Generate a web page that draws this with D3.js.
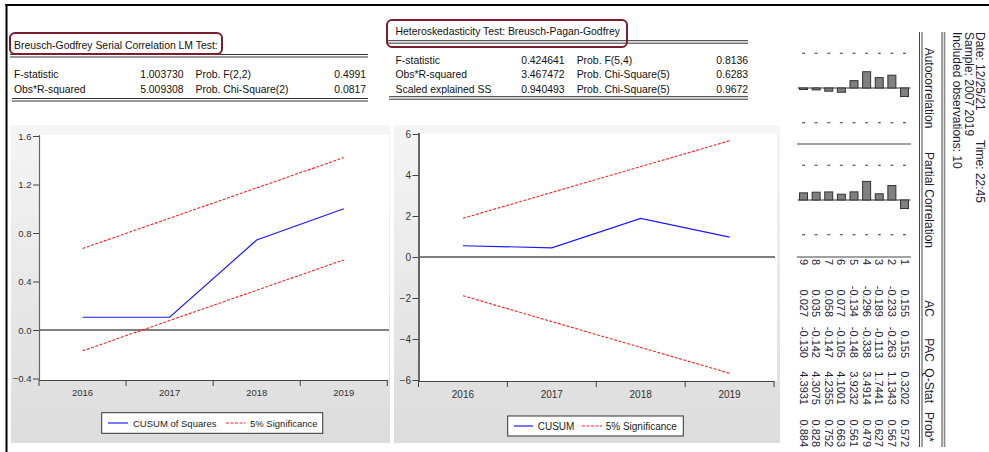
<!DOCTYPE html>
<html><head><meta charset="utf-8">
<script src="https://cdn.jsdelivr.net/npm/d3@7"></script>
<style>body{margin:0;background:#fff}svg{display:block}text{font-family:"Liberation Sans",Arial,sans-serif}</style>
</head><body><svg id="c" width="989" height="452"></svg>
<script>
// ---------- data ----------
const years = ["2016","2017","2018","2019"];
const cusumSq = [0.105,0.105,0.742,1.0];
const cusumSqUpper = [0.672,0.922,1.172,1.422];
const cusumSqLower = [-0.172,0.078,0.328,0.578];
const cusumSqTicks = [-0.4,0.0,0.4,0.8,1.2,1.6];
const cusum = [0.55,0.45,1.88,0.97];
const cusumUpper = [1.89,3.15,4.41,5.67];
const cusumLower = [-1.89,-3.15,-4.41,-5.67];
const cusumTicks = [-6,-4,-2,0,2,4,6];

const lags = [1,2,3,4,5,6,7,8,9];
const acVals = [0.155,-0.233,-0.189,-0.296,-0.134,0.077,0.058,0.035,0.027];
const pacVals = [0.155,-0.263,-0.113,-0.338,-0.148,-0.105,-0.147,-0.142,-0.130];
const acText = ["0.155","-0.233","-0.189","-0.296","-0.134","0.077","0.058","0.035","0.027"];
const pacText = ["0.155","-0.263","-0.113","-0.338","-0.148","-0.105","-0.147","-0.142","-0.130"];
const qStat = ["0.3202","1.1343","1.7441","3.4914","3.9232","4.1001","4.2355","4.3075","4.3931"];
const probVals = ["0.572","0.567","0.627","0.479","0.561","0.663","0.752","0.828","0.884"];
const corrBound = 0.632;
const corrInfo = ["Date: 12/25/21","Time: 22:45","Sample: 2007 2019","Included observations: 10"];
const corrHeads = ["Autocorrelation","Partial Correlation","AC","PAC","Q-Stat","Prob*"];

const bgTitle = "Breusch-Godfrey Serial Correlation LM Test:";
const bgRows = [["F-statistic","1.003730","Prob. F(2,2)","0.4991"],
                ["Obs*R-squared","5.009308","Prob. Chi-Square(2)","0.0817"]];
const hetTitle = "Heteroskedasticity Test: Breusch-Pagan-Godfrey";
const hetRows = [["F-statistic","0.424641","Prob. F(5,4)","0.8136"],
                 ["Obs*R-squared","3.467472","Prob. Chi-Square(5)","0.6283"],
                 ["Scaled explained SS","0.940493","Prob. Chi-Square(5)","0.9672"]];

// ---------- drawing ----------
const svg = d3.select("#c");
const defs = svg.append("defs");
const gr = defs.append("linearGradient").attr("id","pg").attr("x1",0).attr("y1",0).attr("x2",0).attr("y2",1);
gr.append("stop").attr("offset","0%").attr("stop-color","#f5f5f5");
gr.append("stop").attr("offset","100%").attr("stop-color","#dcdcdc");

// frame
svg.append("rect").attr("x",5.5).attr("y",4).attr("width",2).attr("height",448).attr("fill","#000");
svg.append("rect").attr("x",5.5).attr("y",4).attr("width",984).attr("height",2).attr("fill","#000");

function dbl(g,x1,x2,y){
  g.append("line").attr("x1",x1).attr("x2",x2).attr("y1",y).attr("y2",y).attr("stroke","#333").attr("stroke-width",1);
  g.append("line").attr("x1",x1).attr("x2",x2).attr("y1",y+2.5).attr("y2",y+2.5).attr("stroke","#333").attr("stroke-width",1);
}

function table(opt){
  const g = svg.append("g").attr("font-size","10.4px").attr("fill","#111");
  dbl(g,opt.x0,opt.x1,opt.lineTop);
  dbl(g,opt.x0+2,opt.x1,opt.lineBot);
  g.append("rect").attr("x",opt.box[0]).attr("y",opt.box[1]).attr("width",opt.box[2]).attr("height",opt.box[3])
    .attr("rx",5).attr("fill","none").attr("stroke","#7d1c2c").attr("stroke-width",2);
  g.append("text").attr("x",opt.tx).attr("y",opt.ty).text(opt.title);
  opt.rows.forEach((r,i)=>{
    const y = opt.ry[i];
    g.append("text").attr("x",opt.cols[0]).attr("y",y).text(r[0]);
    g.append("text").attr("x",opt.cols[1]).attr("y",y).attr("text-anchor","end").text(r[1]);
    g.append("text").attr("x",opt.cols[2]).attr("y",y).text(r[2]);
    g.append("text").attr("x",opt.cols[3]).attr("y",y).attr("text-anchor","end").text(r[3]);
  });
}
table({title:bgTitle,rows:bgRows,x0:10,x1:368,lineTop:54.5,lineBot:98.5,box:[10,33,212,21],tx:14,ty:48.5,
  ry:[78,92.5],cols:[14,183.5,195.5,366]});
table({title:hetTitle,rows:hetRows,x0:387,x1:748,lineTop:40.7,lineBot:96.7,box:[387,20,240,27],tx:395.5,ty:35,
  ry:[64,78.3,92.7],cols:[395.5,564.5,576.7,748]});

function chart(o){
  const g = svg.append("g");
  g.append("rect").attr("x",o.panel[0]).attr("y",o.panel[1]).attr("width",o.panel[2]).attr("height",o.panel[3]).attr("fill","url(#pg)");
  g.append("rect").attr("x",o.plot[0]).attr("y",o.plot[1]).attr("width",o.plot[2]).attr("height",o.plot[3]).attr("fill","#fff");
  const x = d3.scaleBand().domain(years).range(o.xr);
  const y = d3.scaleLinear().domain(o.yd).range(o.yr);
  const cx = d => x(d)+x.bandwidth()/2;
  // zero line
  g.append("line").attr("x1",o.xr[0]).attr("x2",o.zeroEnd).attr("y1",y(0)).attr("y2",y(0)).attr("stroke","#555").attr("stroke-width",1.5);
  // y axis
  const ya = g.append("g").attr("transform",`translate(${o.xr[0]},0)`)
    .call(d3.axisLeft(y).tickValues(o.ticks).tickFormat(o.fmt).tickSize(6).tickPadding(1.5));
  ya.select(".domain").attr("stroke","#666").attr("stroke-width",o.axW).attr("d",`M0.5,${o.yr[1]-1}V${o.axisY}`);
  ya.selectAll(".tick line").attr("stroke","#444");
  ya.selectAll("text").attr("font-size",o.fs).attr("fill","#333").attr("font-family","Liberation Sans, Arial, sans-serif");
  // x axis
  const xa = g.append("g").attr("transform",`translate(0,${o.axisY})`)
    .call(d3.axisBottom(x).tickSize(0).tickPadding(o.xpad));
  xa.select(".domain").attr("stroke","#444").attr("stroke-width",1.2).attr("d",`M${o.xr[0]},0.5H${o.xr[1]}`);
  xa.selectAll("text").attr("font-size",o.fs).attr("fill","#333").attr("font-family","Liberation Sans, Arial, sans-serif");
  const bounds = years.map(d=>x(d)).concat([o.xr[1]]);
  g.selectAll(".xt").data(bounds).enter().append("line")
    .attr("x1",d=>d).attr("x2",d=>d).attr("y1",o.axisY).attr("y2",o.axisY+6).attr("stroke","#444");
  const line = d3.line().x((d,i)=>cx(years[i])).y(d=>y(d));
  g.append("path").attr("d",line(o.up)).attr("fill","none").attr("stroke","#ff2020").attr("stroke-width",1.1).attr("stroke-dasharray","3,1.5");
  g.append("path").attr("d",line(o.lo)).attr("fill","none").attr("stroke","#ff2020").attr("stroke-width",1.1).attr("stroke-dasharray","3,1.5");
  g.append("path").attr("d",line(o.main)).attr("fill","none").attr("stroke","#1a1aff").attr("stroke-width",1.2);
  // legend
  const L = o.leg;
  const lg = g.append("g");
  lg.append("rect").attr("x",L.x).attr("y",L.y).attr("width",L.w).attr("height",L.h).attr("fill","#fff").attr("stroke","#333").attr("stroke-width",1);
  const ly = L.y+L.h/2;
  lg.append("line").attr("x1",L.s1[0]).attr("x2",L.s1[1]).attr("y1",ly).attr("y2",ly).attr("stroke","#4d4dff").attr("stroke-width",1.5);
  lg.append("text").attr("x",L.t1).attr("y",ly+3.5).attr("font-size",o.fs).attr("fill","#222").text(L.n1);
  lg.append("line").attr("x1",L.s2[0]).attr("x2",L.s2[1]).attr("y1",ly).attr("y2",ly).attr("stroke","#ff2020").attr("stroke-width",1).attr("stroke-dasharray","3,1.5");
  lg.append("text").attr("x",L.t2).attr("y",ly+3.5).attr("font-size",o.fs).attr("fill","#222").text(L.n2);
}

chart({panel:[11,125,379,318],plot:[39,135,350,245],xr:[39,387.3],yd:[-0.4,1.6],yr:[378.5,136],axisY:380,zeroEnd:389,
  ticks:cusumSqTicks,fmt:d3.format(".1f"),fs:"9.5px",axW:1.2,xpad:9,
  up:cusumSqUpper,lo:cusumSqLower,main:cusumSq,
  leg:{x:101.7,y:412.7,w:221,h:20.6,s1:[108,128],t1:133,n1:"CUSUM of Squares",s2:[226,245],t2:250,n2:"5% Significance"}});
chart({panel:[394,125,386,318],plot:[418,133,359,248],xr:[418.5,774],yd:[-6,6],yr:[380,134],axisY:381,zeroEnd:775,
  ticks:cusumTicks,fmt:d3.format("d"),fs:"10px",axW:2,xpad:10,
  up:cusumUpper,lo:cusumLower,main:cusum,
  leg:{x:507.7,y:416,w:175.6,h:20,s1:[514,533],t1:537.7,n1:"CUSUM",s2:[582,602],t2:605.7,n2:"5% Significance"}});

// ---------- correlogram (rotated) ----------
const cg = svg.append("g");
const xl = d3.scaleLinear().domain([1,9]).range([904.5,803.5]);
const k = d3.scaleLinear().domain([-1,1]).range([-55,55]);
[[88,acVals],[200,pacVals]].forEach(([base,vals])=>{
  cg.append("line").attr("x1",797.5).attr("x2",910.5).attr("y1",base).attr("y2",base).attr("stroke","#333").attr("stroke-width",1);
  [-corrBound,corrBound].forEach(b=>{
    cg.selectAll(null).data(lags).enter().append("line")
      .attr("x1",d=>xl(d)-1.5).attr("x2",d=>xl(d)+1.5).attr("y1",base+k(b)).attr("y2",base+k(b)).attr("stroke","#333");
  });
  cg.selectAll(null).data(vals).enter().append("rect")
    .attr("x",(d,i)=>xl(lags[i])-4).attr("width",8)
    .attr("y",d=>base+Math.min(0,k(d))).attr("height",d=>Math.abs(k(d)))
    .attr("fill","#808080").attr("stroke","#333").attr("stroke-width",1);
});
[144,257].forEach(yy=>cg.append("line").attr("x1",797).attr("x2",911).attr("y1",yy).attr("y2",yy).attr("stroke","#444").attr("stroke-width",1.2));
// vertical double lines
[[919.5,"#444",1],[922,"#444",1],[942,"#888",1.6],[944.5,"#888",1.6]].forEach(([xx,c,w])=>
  cg.append("line").attr("x1",xx).attr("x2",xx).attr("y1",32).attr("y2",447).attr("stroke",c).attr("stroke-width",w));

function rtext(x,y,txt,anchor,fs){
  cg.append("text").attr("transform",`translate(${x},${y}) rotate(90)`).attr("text-anchor",anchor)
    .attr("font-size",fs).attr("fill","#1c1c3a").text(txt);
}
rtext(975.5,32,corrInfo[0],"start","12px");
rtext(975.5,140,corrInfo[1],"start","12px");
rtext(964.5,32,corrInfo[2],"start","12px");
rtext(952.5,32,corrInfo[3],"start","12px");
rtext(924.5,88,corrHeads[0],"middle","12px");
rtext(924.5,200,corrHeads[1],"middle","12px");
rtext(924.5,317,corrHeads[2],"end","12px");
rtext(924.5,362,corrHeads[3],"end","12px");
rtext(924.5,403,corrHeads[4],"end","12px");
rtext(924.5,442,corrHeads[5],"end","12px");
lags.forEach((l,i)=>{
  const bx = xl(l)-4;
  rtext(bx,265,String(l),"end","11px");
  rtext(bx,317,acText[i],"end","11px");
  rtext(bx,358,pacText[i],"end","11px");
  rtext(bx,405,qStat[i],"end","11px");
  rtext(bx,447,probVals[i],"end","11px");
});
</script></body></html>
